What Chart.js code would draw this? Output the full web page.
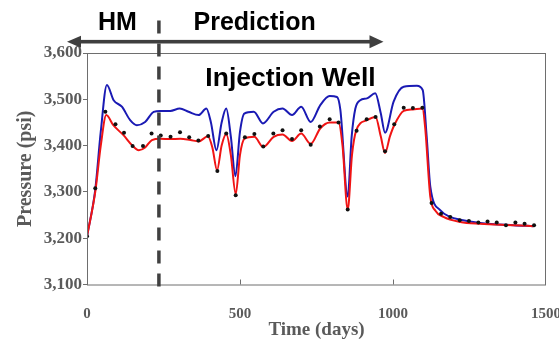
<!DOCTYPE html>
<html>
<head>
<meta charset="utf-8">
<script src="https://cdn.jsdelivr.net/npm/chart.js@4"></script>
<style>
    html, body { margin: 0; padding: 0; background: #fff; }
    #wrap { width: 559px; height: 344px; position: relative; }
</style>
</head>
<body>
<div id="wrap"><canvas id="chart"></canvas></div>
<script>
// observed pressure (black dots)
const obsDays = [0, 27, 60, 93, 121, 149, 183, 211, 241, 273, 304, 334, 364, 396, 426, 455, 486, 516,
    547, 576, 609, 639, 670, 700, 731, 761, 793, 822, 852, 881, 914, 943, 974, 1004, 1035, 1065, 1096,
    1126, 1157, 1187, 1218, 1248, 1279, 1309, 1339, 1369, 1400, 1430, 1461];
const obsPressure = [3204, 3308, 3473, 3446, 3428, 3399, 3399, 3426, 3422, 3419, 3429, 3418, 3411, 3421,
    3345, 3426, 3293, 3418, 3425, 3398, 3426, 3433, 3414, 3433, 3402, 3441, 3457, 3450, 3262, 3432, 3457,
    3462, 3388, 3446, 3482, 3481, 3482, 3276, 3253, 3246, 3239, 3237, 3234, 3236, 3234, 3228, 3234, 3231, 3228];

// matched model (red)
const redDays = [0, 27, 45, 63, 86, 120, 147, 169, 190, 212, 240, 272, 305, 338, 365, 395, 410, 425, 440,
    455, 470, 486, 500, 515, 547, 576, 610, 639, 670, 700, 731, 762, 793, 822, 835, 852, 866, 880, 915,
    943, 960, 974, 990, 1004, 1035, 1065, 1096, 1105, 1122, 1138, 1165, 1220, 1285, 1394, 1459];
const redPressure = [3204, 3300, 3400, 3466, 3444, 3422, 3401, 3390, 3396, 3412, 3415, 3414, 3415, 3412,
    3409, 3420, 3395, 3347, 3400, 3425, 3380, 3295, 3380, 3415, 3419, 3397, 3419, 3424, 3410, 3426, 3404,
    3437, 3450, 3450, 3400, 3262, 3380, 3433, 3455, 3462, 3420, 3384, 3420, 3444, 3475, 3478, 3480, 3440,
    3289, 3260, 3246, 3235, 3231, 3228, 3226];

// prediction model (blue)
const blueDays = [0, 27, 45, 65, 87, 114, 141, 163, 190, 218, 240, 272, 303, 332, 365, 390, 405, 423, 440,
    455, 470, 485, 500, 514, 545, 575, 610, 639, 670, 700, 731, 762, 793, 817, 828, 852, 865, 877, 893,
    915, 942, 960, 974, 1002, 1035, 1078, 1097, 1110, 1122, 1155, 1187, 1220, 1285, 1394, 1459];
const bluePressure = [3204, 3305, 3430, 3531, 3498, 3484, 3455, 3444, 3451, 3473, 3475, 3475, 3480, 3473,
    3466, 3480, 3450, 3390, 3450, 3480, 3420, 3334, 3430, 3469, 3473, 3448, 3473, 3480, 3466, 3484, 3451,
    3487, 3507, 3505, 3477, 3290, 3420, 3480, 3498, 3502, 3513, 3470, 3428, 3495, 3527, 3529, 3520, 3420,
    3311, 3260, 3246, 3240, 3233, 3228, 3226];

const xTicks = [0, 500, 1000, 1500];
const yTicks = [3100, 3200, 3300, 3400, 3500, 3600];
const hmEndDay = 235;

function toPoints(xs, ys) {
    return xs.map((x, i) => ({ x: x, y: ys[i] }));
}

const annotations = {
    id: 'annotations',
    afterDraw(chart) {
        const { ctx, chartArea: { left, top, right, bottom }, scales: { x } } = chart;
        ctx.save();

        // plot frame
        ctx.strokeStyle = '#6e6e6e';
        ctx.lineWidth = 1;
        ctx.strokeRect(left + 0.5, top + 0.5, right - left - 1, bottom - top);

        // inner x ticks
        xTicks.slice(1, -1).forEach(v => {
            const px = Math.round(x.getPixelForValue(v)) + 0.5;
            ctx.beginPath();
            ctx.moveTo(px, bottom);
            ctx.lineTo(px, bottom - 5);
            ctx.stroke();
        });

        // HM / prediction split
        const sx = x.getPixelForValue(hmEndDay);
        ctx.strokeStyle = '#404040';
        ctx.lineWidth = 3.5;
        ctx.setLineDash([13, 10]);
        ctx.beginPath();
        ctx.moveTo(sx, 20.5);
        ctx.lineTo(sx, bottom + 2);
        ctx.stroke();
        ctx.setLineDash([]);

        // double arrow
        const ay = 41.7;
        ctx.fillStyle = '#3f3f3f';
        ctx.fillRect(78, ay - 1.8, 294, 3.6);
        ctx.beginPath();
        ctx.moveTo(67, ay);
        ctx.lineTo(81, ay - 6);
        ctx.lineTo(81, ay + 6);
        ctx.closePath();
        ctx.fill();
        ctx.beginPath();
        ctx.moveTo(383.5, ay);
        ctx.lineTo(369.5, ay - 6.5);
        ctx.lineTo(369.5, ay + 6.5);
        ctx.closePath();
        ctx.fill();

        // labels
        ctx.fillStyle = '#000';
        ctx.textBaseline = 'alphabetic';
        ctx.font = 'bold 25px "Liberation Sans", Arial, sans-serif';
        ctx.textAlign = 'left';
        ctx.fillText('HM', 98, 30);
        ctx.fillText('Prediction', 193.5, 30);
        ctx.textAlign = 'center';
        ctx.font = 'bold 26.5px "Liberation Sans", Arial, sans-serif';
        ctx.fillText('Injection Well', 290.5, 86);

        ctx.restore();
    }
};

const serif = '"Liberation Serif", "Times New Roman", serif';
const gray = '#5a5a5a';

new Chart(document.getElementById('chart'), {
    type: 'line',
    data: {
        datasets: [
            {
                label: 'Observed',
                data: toPoints(obsDays, obsPressure),
                showLine: false,
                pointRadius: 2,
                pointBackgroundColor: '#111',
                pointBorderWidth: 0
            },
            {
                label: 'HM model',
                data: toPoints(redDays, redPressure),
                borderColor: '#f01414',
                borderWidth: 2,
                pointRadius: 0,
                cubicInterpolationMode: 'monotone'
            },
            {
                label: 'Prediction model',
                data: toPoints(blueDays, bluePressure),
                borderColor: '#1a1ab4',
                borderWidth: 2,
                pointRadius: 0,
                cubicInterpolationMode: 'monotone'
            }
        ]
    },
    options: {
        responsive: true,
        maintainAspectRatio: false,
        animation: false,
        layout: { padding: { left: 0, top: 53, right: 13, bottom: 0 } },
        plugins: {
            legend: { display: false },
            tooltip: { enabled: false }
        },
        scales: {
            x: {
                type: 'linear',
                min: 0,
                max: 1500,
                afterBuildTicks: scale => { scale.ticks = xTicks.map(v => ({ value: v })); },
                afterFit: scale => {
                    scale.height = 59.5;
                    scale.paddingLeft = 0;
                    scale.paddingRight = 0;
                },
                border: { display: false },
                grid: { display: false },
                ticks: {
                    padding: 13,
                    color: gray,
                    font: { family: serif, size: 15, weight: 'bold' },
                    callback: v => String(v)
                },
                title: {
                    display: true,
                    text: 'Time (days)',
                    color: gray,
                    padding: { top: 0, bottom: 3 },
                    font: { family: serif, size: 19, weight: 'bold' }
                }
            },
            y: {
                min: 3100,
                max: 3600,
                afterBuildTicks: scale => { scale.ticks = yTicks.map(v => ({ value: v })); },
                afterFit: scale => { scale.width = 87; },
                border: { display: false },
                grid: {
                    drawOnChartArea: false,
                    drawTicks: true,
                    tickLength: 4,
                    color: '#6e6e6e'
                },
                ticks: {
                    padding: 1,
                    color: gray,
                    font: { family: serif, size: 17, weight: 'bold' },
                    callback: v => v.toLocaleString('en-US')
                },
                title: {
                    display: true,
                    text: 'Pressure (psi)',
                    color: gray,
                    padding: { top: 14, bottom: 0 },
                    font: { family: serif, size: 20, weight: 'bold' }
                }
            }
        }
    },
    plugins: [annotations]
});
</script>
</body>
</html>
